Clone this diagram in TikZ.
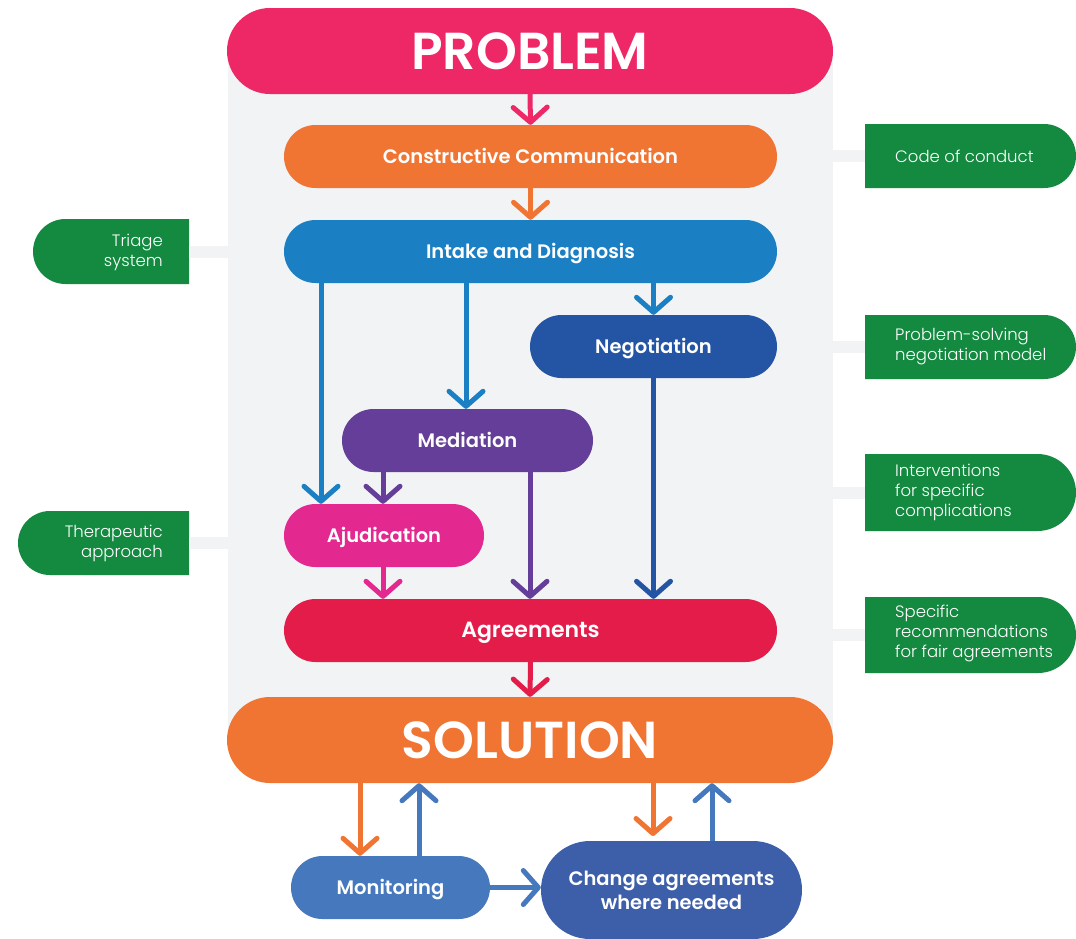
\documentclass[tikz,border=0pt]{standalone}
\usepackage{fontspec}
\setmainfont{Poppins}[BoldFont={Poppins SemiBold}]
\newfontfamily\lightfont{Poppins Light}
\usetikzlibrary{arrows.meta,shapes.misc}
\definecolor{cPink}{HTML}{EE2766}
\definecolor{cOrange}{HTML}{F07533}
\definecolor{cBlue}{HTML}{1B7FC3}
\definecolor{cNavy}{HTML}{2355A4}
\definecolor{cPurple}{HTML}{643E98}
\definecolor{cMagenta}{HTML}{E3288F}
\definecolor{cRed}{HTML}{E31C4A}
\definecolor{cMon}{HTML}{4578BC}
\definecolor{cChange}{HTML}{3D5EA9}
\definecolor{cGreen}{HTML}{138A40}
\definecolor{cGray}{HTML}{F2F3F5}
\tikzset{
  pill/.style={rounded rectangle, inner sep=0pt, text=white, font=\bfseries\fontsize{19.5}{24}\selectfont},
  one/.style={text height=1.5em, text depth=0.13em},
  big/.style={pill, font=\bfseries\fontsize{52}{56}\selectfont},
  gleft/.style={rounded rectangle, rounded rectangle right arc=none, fill=cGreen, inner sep=0pt},
  gright/.style={rounded rectangle, rounded rectangle left arc=none, fill=cGreen, inner sep=0pt},
  gtext/.style={text=white, inner sep=0pt, font=\lightfont\fontsize{16.5}{20}\selectfont},
  link/.style={cGray, line width=12pt},
  arr/.style={line width=5pt, -{Straight Barb[round,length=15pt,width=34pt]}},
}
\begin{document}
\begin{tikzpicture}[x=1pt,y=-1pt]
\useasboundingbox (0,0) rectangle (1076,938);
\fill[white] (0,0) rectangle (1076,938);
% panel
\node[fill=cGray, minimum width=605pt, minimum height=690pt, inner sep=0pt] (panel) at (530.5,395) {};
% green side boxes
\node[gleft, minimum width=156pt, minimum height=65pt] (triage) at (111,251.5) {};
\node[gtext, anchor=east, align=right] (triaget) at (163,252.5) {Triage\\system};
\node[gleft, minimum width=171pt, minimum height=64pt] (thera) at (103.5,543) {};
\node[gtext, anchor=east, align=right] (therat) at (163,543) {Therapeutic\\approach};
\node[gright, minimum width=211pt, minimum height=64pt] (code) at (970.5,156) {};
\node[gtext, anchor=west, align=left] (codet) at (895,156) {Code of conduct};
\node[gright, minimum width=211pt, minimum height=64pt] (psn) at (970.5,347) {};
\node[gtext, anchor=west, align=left] (psnt) at (895,346) {Problem-solving\\negotiation model};
\node[gright, minimum width=211pt, minimum height=77pt] (interv) at (970.5,492.5) {};
\node[gtext, anchor=west, align=left] (intervt) at (895,492) {Interventions\\for specific\\complications};
\node[gright, minimum width=211pt, minimum height=76pt] (spec) at (970.5,635) {};
\node[gtext, anchor=west, align=left] (spect) at (895,633.5) {Specific\\recommendations\\for fair agreements};
% links
\draw[link] (triage.east) -- (triage.east -| panel.west);
\draw[link] (thera.east) -- (thera.east -| panel.west);
\draw[link] (code.west) -- (code.west -| panel.east);
\draw[link] (psn.west) -- (psn.west -| panel.east);
\draw[link] (interv.west) -- (interv.west -| panel.east);
\draw[link] (spec.west) -- (spec.west -| panel.east);
% main nodes
\node[big, fill=cPink, minimum width=606pt, minimum height=86pt] (problem) at (530,51) {PROBLEM};
\node[pill, one, fill=cOrange, minimum width=493pt, minimum height=63pt] (cc) at (530.5,156.5) {Constructive Communication};
\node[pill, one, fill=cBlue, minimum width=493pt, minimum height=63pt] (intake) at (530.5,251.5) {Intake and Diagnosis};
\node[pill, one, fill=cNavy, minimum width=247pt, minimum height=63pt] (nego) at (653.5,346.5) {Negotiation};
\node[pill, one, fill=cPurple, minimum width=251pt, minimum height=63pt] (medi) at (467.5,440.5) {Mediation};
\node[pill, one, fill=cMagenta, minimum width=200pt, minimum height=63pt] (ajud) at (384,535.5) {Ajudication};
\node[pill, one, fill=cRed, minimum width=493pt, minimum height=63pt, font=\bfseries\fontsize{22}{26}\selectfont] (agree) at (530.5,630.5) {Agreements};
\node[big, fill=cOrange, minimum width=606pt, minimum height=86pt] (solution) at (530,740) {SOLUTION};
\node[pill, one, fill=cMon, minimum width=199pt, minimum height=63pt] (moni) at (390.5,887.5) {Monitoring};
\node[pill, align=center, fill=cChange, minimum width=261pt, minimum height=98pt, font=\bfseries\fontsize{19.5}{24}\selectfont] (change) at (671.5,890) {Change agreements\\where needed};
% arrows
\draw[arr, cPink] (problem.south) -- (cc.north);
\draw[arr, cOrange] (cc.south) -- (intake.north);
\draw[arr, cBlue] (intake.south -| 321,0) -- (ajud.north -| 321,0);
\draw[arr, cBlue] (intake.south -| 466,0) -- (medi.north -| 466,0);
\draw[arr, cBlue] (nego.north |- intake.south) -- (nego.north);
\draw[arr, cPurple] (medi.south -| 383,0) -- (ajud.north -| 383,0);
\draw[arr, cPurple] (medi.south -| 530,0) -- (agree.north -| 530,0);
\draw[arr, cNavy] (nego.south) -- (agree.north -| nego.south);
\draw[arr, cMagenta] (ajud.south -| 383,0) -- (agree.north -| 383,0);
\draw[arr, cRed] (agree.south) -- (solution.north);
\draw[arr, cOrange] (solution.south -| 360,0) -- (moni.north -| 360,0);
\draw[arr, cMon] (moni.north -| 419,0) -- (solution.south -| 419,0);
\draw[arr, cOrange] (solution.south -| 653,0) -- (653,836);
\draw[arr, cMon] (712,841) -- (solution.south -| 712,0);
\draw[arr, cMon] (moni.east) -- (change.west |- moni.east);
\end{tikzpicture}
\end{document}
